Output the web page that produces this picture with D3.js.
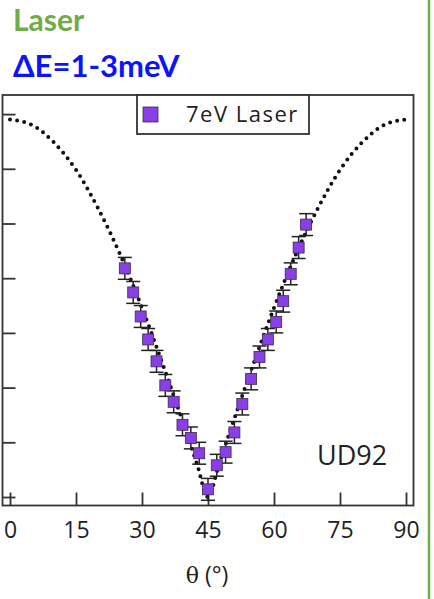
<!DOCTYPE html>
<html>
<head>
<meta charset="utf-8">
<script src="https://cdn.jsdelivr.net/npm/d3@7"></script>
<style>
  body { margin: 0; background: #fff; }
  svg { display: block; }
</style>
</head>
<body>
<div class="chart"></div>
<script>
// measured gap vs Fermi surface angle (7eV laser, UD92)
const theta = [26.1, 28.0, 29.7, 31.4, 33.3, 35.3, 37.2, 39.2, 41.1, 43.0, 45.0,
               47.0, 49.0, 51.0, 52.8, 54.8, 56.7, 58.6, 60.5, 62.1, 63.8, 65.6, 67.3];
const gap = [20.9, 18.7, 16.5, 14.4, 12.4, 10.2, 8.7, 6.6, 5.4, 4.0, 0.7,
             2.9, 4.1, 5.9, 8.5, 10.8, 12.8, 14.4, 16.0, 17.9, 20.4, 22.8, 24.9];
const gapErr = [1.0, 1.0, 1.0, 1.0, 1.0, 1.0, 1.0, 1.0, 1.0, 1.0, 1.0,
                1.0, 1.0, 1.0, 1.0, 1.0, 1.0, 1.0, 1.0, 1.0, 1.0, 1.0, 1.0];

// dotted d-wave curve
const fitTheta = [0, 5, 10, 15, 20, 25, 30, 35, 40, 42.5, 45, 47.5, 50, 55, 60, 65, 70, 75, 80, 85, 90];
const fitGap = [34.5, 34.0, 32.4, 29.9, 26.4, 22.2, 17.3, 11.8, 6.0, 3.0, 0,
                3.0, 6.0, 11.8, 17.3, 22.2, 26.4, 29.9, 32.4, 34.0, 34.5];

const xTicks = [0, 15, 30, 45, 60, 75, 90];
const yTicks = [0, 5, 10, 15, 20, 25, 30, 35];

const W = 434, H = 599;
const frame = {left: 2.5, right: 413.5, top: 95, bottom: 505.5};

const svg = d3.select('.chart').append('svg')
  .attr('width', W)
  .attr('height', H);

svg.append('rect').attr('width', W).attr('height', H).attr('fill', '#fff');

// headings
svg.append('text')
  .attr('x', 13).attr('y', 31)
  .style('font-family', 'Lato, sans-serif')
  .style('font-weight', 'bold')
  .style('font-size', '30px')
  .attr('fill', '#70ad47')
  .text('Laser');

svg.append('text')
  .attr('x', 13).attr('y', 77)
  .style('font-family', 'Lato, sans-serif')
  .style('font-weight', 'bold')
  .style('font-size', '31px')
  .attr('fill', '#0a14ff')
  .text('ΔE=1-3meV');

// green separator on the right
svg.append('line')
  .attr('x1', 429).attr('x2', 429)
  .attr('y1', 0).attr('y2', H)
  .attr('stroke', '#70ad47')
  .attr('stroke-width', 2.5);

const x = d3.scaleLinear().domain([0, 90]).range([10, 406]);
const y = d3.scaleLinear().domain([0, 35]).range([497, 114.1]);

// frame
svg.append('rect')
  .attr('x', frame.left).attr('y', frame.top)
  .attr('width', frame.right - frame.left)
  .attr('height', frame.bottom - frame.top)
  .attr('fill', 'none')
  .attr('stroke', '#333')
  .attr('stroke-width', 1.8);

const xAxis = svg.append('g')
  .attr('transform', 'translate(0, ' + frame.bottom + ')')
  .call(d3.axisBottom(x).tickValues(xTicks).tickSizeInner(-13).tickSizeOuter(0).tickPadding(16));
xAxis.select('.domain').remove();
xAxis.selectAll('line').attr('stroke', '#333').attr('stroke-width', 1.8);
xAxis.selectAll('text')
  .style('font-family', '"Open Sans", sans-serif')
  .style('font-size', '23px')
  .attr('fill', '#222');

const yAxis = svg.append('g')
  .attr('transform', 'translate(' + frame.left + ', 0)')
  .call(d3.axisLeft(y).tickValues(yTicks).tickSizeInner(-13).tickSizeOuter(0).tickFormat(''));
yAxis.select('.domain').remove();
yAxis.selectAll('line').attr('stroke', '#333').attr('stroke-width', 1.8);

const xTitle = svg.append('text')
  .attr('x', 207).attr('y', 583)
  .attr('text-anchor', 'middle')
  .style('font-family', '"Open Sans", sans-serif')
  .style('font-size', '23px')
  .attr('fill', '#222');
xTitle.append('tspan').style('font-family', '"DejaVu Serif", serif').style('font-size', '22px').text('θ');
xTitle.append('tspan').text(' (°)');

// dotted fit
const line = d3.line()
  .x(d => x(d[0]))
  .y(d => y(d[1]))
  .curve(d3.curveMonotoneX);

svg.append('path')
  .datum(fitTheta.map((t, i) => [t, fitGap[i]]))
  .attr('d', line)
  .attr('fill', 'none')
  .attr('stroke', '#111')
  .attr('stroke-width', 4)
  .attr('stroke-linecap', 'round')
  .attr('stroke-dasharray', '0 7.2');

// error bars
const pts = theta.map((t, i) => ({t: t, g: gap[i], e: gapErr[i]}));
const eb = svg.append('g').attr('stroke', '#222').attr('stroke-width', 1.5);
eb.selectAll('.ev').data(pts).enter().append('line')
  .attr('x1', d => x(d.t)).attr('x2', d => x(d.t))
  .attr('y1', d => y(d.g - d.e)).attr('y2', d => y(d.g + d.e));
eb.selectAll('.ct').data(pts).enter().append('line')
  .attr('x1', d => x(d.t) - 7).attr('x2', d => x(d.t) + 7)
  .attr('y1', d => y(d.g + d.e)).attr('y2', d => y(d.g + d.e));
eb.selectAll('.cb').data(pts).enter().append('line')
  .attr('x1', d => x(d.t) - 7).attr('x2', d => x(d.t) + 7)
  .attr('y1', d => y(d.g - d.e)).attr('y2', d => y(d.g - d.e));

const sq = 11;
svg.selectAll('.pt').data(pts).enter().append('rect')
  .attr('class', 'pt')
  .attr('x', d => x(d.t) - sq / 2)
  .attr('y', d => y(d.g) - sq / 2)
  .attr('width', sq).attr('height', sq)
  .attr('fill', '#8a3ee6')
  .attr('stroke', '#3a2a55')
  .attr('stroke-width', 0.8);

// legend
svg.append('rect')
  .attr('x', 137).attr('y', frame.top)
  .attr('width', 172).attr('height', 39)
  .attr('fill', '#fff')
  .attr('stroke', '#333')
  .attr('stroke-width', 1.8);
svg.append('rect')
  .attr('x', 143).attr('y', 107)
  .attr('width', 15).attr('height', 15)
  .attr('fill', '#8a3ee6')
  .attr('stroke', '#3a2a55')
  .attr('stroke-width', 0.8);
svg.append('text')
  .attr('x', 186).attr('y', 122)
  .style('font-family', '"Open Sans", sans-serif')
  .style('font-size', '22px')
  .style('letter-spacing', '1.5px')
  .attr('fill', '#222')
  .text('7eV Laser');

svg.append('text')
  .attr('x', 317).attr('y', 465)
  .style('font-family', '"Open Sans", sans-serif')
  .style('font-size', '27px')
  .attr('fill', '#222')
  .text('UD92');
</script>
</body>
</html>
